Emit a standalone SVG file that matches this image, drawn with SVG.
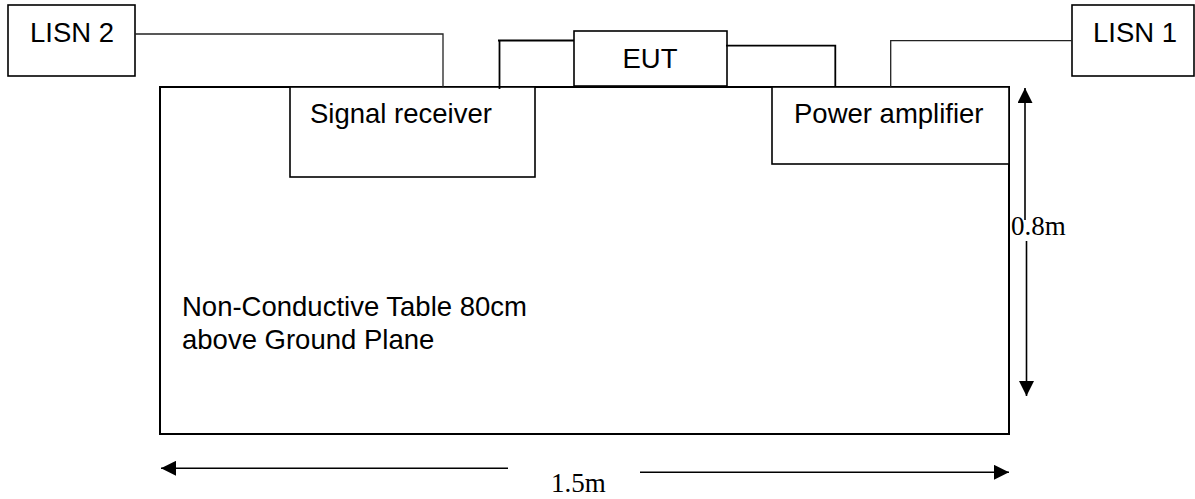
<svg xmlns="http://www.w3.org/2000/svg" width="1195" height="499" viewBox="0 0 1195 499">
<style>
.box{fill:#fff;stroke:#000;stroke-width:1.6}
.table{fill:#fff;stroke:#000;stroke-width:2}
.lbl{font-family:"Liberation Sans",Arial,sans-serif;font-size:27.5px;fill:#000}
.dim{font-family:"Liberation Serif","Times New Roman",serif;font-size:27px;fill:#000}
.wire{fill:none;stroke:#222;stroke-width:1.3}
.wire2{fill:none;stroke:#000;stroke-width:1.8}
.arr{fill:none;stroke:#000;stroke-width:1.6}
</style>
<defs>
<marker id="ah" markerUnits="userSpaceOnUse" markerWidth="15" markerHeight="15" refX="15" refY="7.5" orient="auto">
<path d="M0,0 L15,7.5 L0,15 z" fill="#000"/>
</marker>
</defs>
<g id="table">
<rect class="table" x="160" y="87" width="849" height="347"/>
<text class="lbl" x="182" y="316">Non-Conductive Table 80cm</text>
<text class="lbl" x="182" y="349">above Ground Plane</text>
</g>
<g id="signal-receiver">
<rect class="box" x="290" y="87" width="245" height="90"/>
<text class="lbl" x="310" y="123">Signal receiver</text>
</g>
<g id="power-amplifier">
<rect class="box" x="772" y="87" width="237" height="77"/>
<text class="lbl" x="794" y="123">Power amplifier</text>
</g>
<g id="eut">
<rect class="box" x="574" y="31" width="153" height="55"/>
<text class="lbl" x="650" y="68" text-anchor="middle">EUT</text>
</g>
<g id="lisn2">
<rect class="box" x="8" y="5" width="127" height="71"/>
<text class="lbl" x="30" y="42">LISN 2</text>
</g>
<g id="lisn1">
<rect class="box" x="1072" y="5" width="122" height="71"/>
<text class="lbl" x="1093" y="42">LISN 1</text>
</g>
<g id="connectors">
<polyline class="wire" points="135,34 443,34 443,87"/>
<polyline class="wire2" points="574,40.5 498,40.5"/>
<polyline class="wire2" points="499.5,40 499.5,89"/>
<polyline class="wire2" points="726,45.7 835.3,45.7 835.3,87"/>
<polyline class="wire" points="1072,40.7 890.7,40.7 890.7,87"/>
<line class="arr" x1="1025" y1="220" x2="1025" y2="88" marker-end="url(#ah)"/>
<line class="arr" x1="1026.5" y1="241" x2="1026.5" y2="396" marker-end="url(#ah)"/>
<line class="arr" x1="508" y1="468.3" x2="161" y2="468.3" marker-end="url(#ah)"/>
<line class="arr" x1="640" y1="472.3" x2="1009" y2="472.3" marker-end="url(#ah)"/>
<text class="dim" x="1011" y="235">0.8m</text>
<text class="dim" x="551" y="492">1.5m</text>
</g>
</svg>
